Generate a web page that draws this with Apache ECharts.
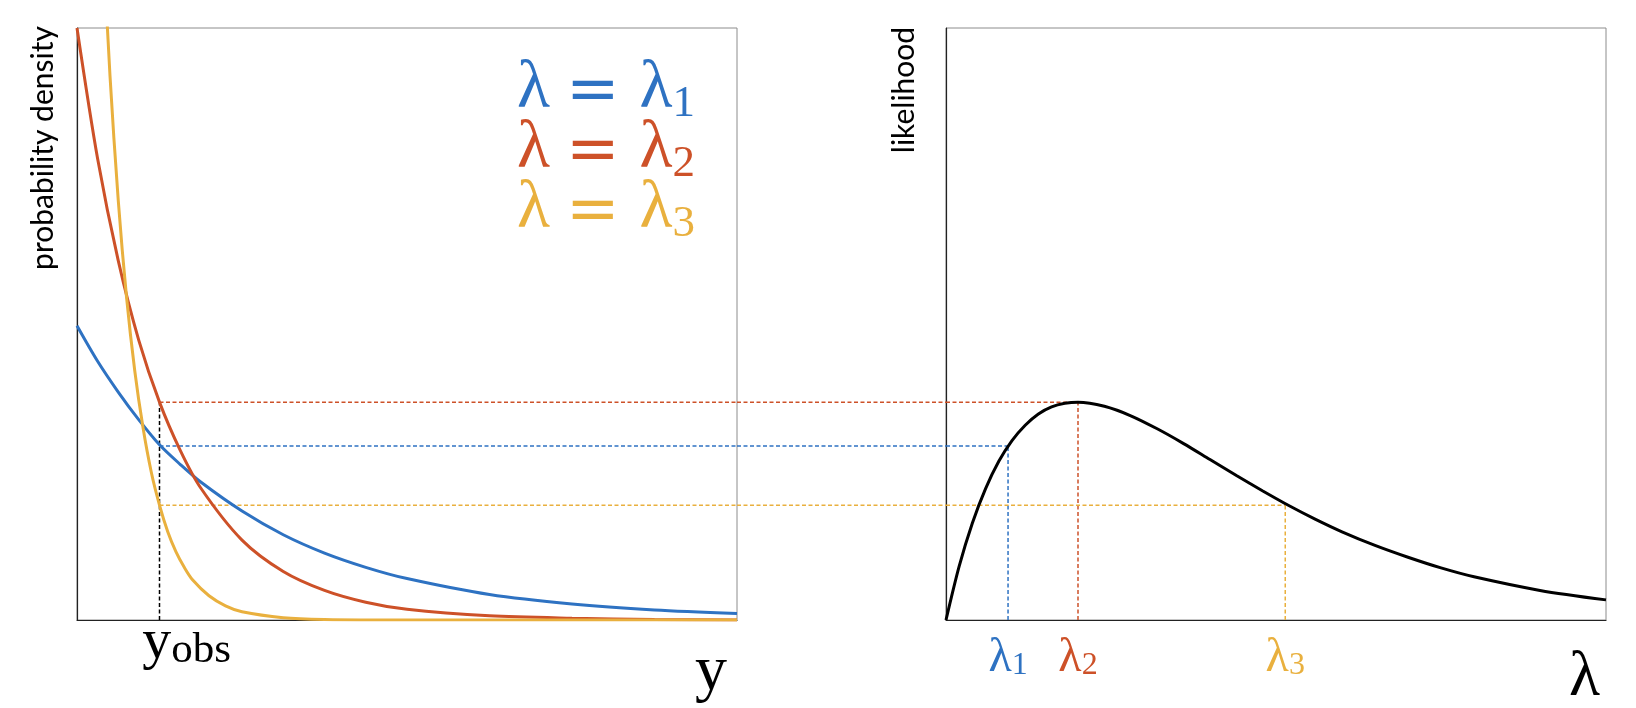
<!DOCTYPE html>
<html lang="en">
<head>
<meta charset="UTF-8">
<title>Likelihood</title>
<style>
    html, body { margin: 0; padding: 0; background: #fff; }
    #chart { width: 1636px; height: 708px; }
</style>
<script src="https://cdn.jsdelivr.net/npm/echarts@6/dist/echarts.min.js"></script>
</head>
<body>
<div id="chart"></div>
<script>
var yObs = 1;
var lambdaVals = [0.47, 1.0, 2.57];
var likeAtObs = [0.294, 0.368, 0.194];

// left panel: densities along y
var yPts = [0, 0.25, 0.5, 0.75, 1, 1.25, 1.5, 2, 2.5, 3, 3.5, 4, 5, 6, 7, 8];
var blueDensity = [0.497, 0.437, 0.385, 0.338, 0.296, 0.263, 0.233, 0.184, 0.144, 0.113, 0.089, 0.070, 0.043, 0.027, 0.017, 0.011];
var redDensity = [1.000, 0.779, 0.607, 0.472, 0.368, 0.287, 0.223, 0.135, 0.082, 0.050, 0.030, 0.018, 0.007, 0.003, 0.001, 0.000];
var yellowPts = [0, 0.2, 0.3, 0.4, 0.5, 0.6, 0.7, 0.8, 0.9, 1.0, 1.1, 1.2, 1.3, 1.4, 1.6, 1.8, 2.0, 2.5, 3, 4, 5, 6, 7, 8];
var yellowDensity = [2.600, 1.546, 1.192, 0.919, 0.709, 0.546, 0.421, 0.325, 0.250, 0.194, 0.149, 0.115, 0.089, 0.068, 0.041, 0.024, 0.014, 0.004, 0.001, 0.000, 0, 0, 0, 0];

// right panel: likelihood along lambda
var lambdaPts = [0, 0.1, 0.2, 0.3, 0.4, 0.5, 0.6, 0.7, 0.8, 0.9, 1.0, 1.2, 1.4, 1.6, 1.8, 2.0, 2.2, 2.4, 2.6, 2.8, 3.0, 3.25, 3.5, 3.75, 4.0, 4.5, 5.0];
var likelihood = [0, 0.091, 0.164, 0.222, 0.268, 0.303, 0.329, 0.348, 0.360, 0.366, 0.368, 0.361, 0.345, 0.323, 0.298, 0.271, 0.244, 0.218, 0.193, 0.170, 0.149, 0.126, 0.106, 0.088, 0.073, 0.050, 0.034];

var colors = ['#2e72c2', '#cd5128', '#e9b03e'];
var serif = 'Liberation Serif';

function zip(xs, ys) {
    return xs.map(function (x, i) { return [x, ys[i]]; });
}

function dashed(data, color, xi) {
    return {
        type: 'line', xAxisIndex: xi, yAxisIndex: xi, data: data,
        symbol: 'none', silent: true, z: 1,
        lineStyle: { color: color, width: 1.5, type: [4, 2.5] }
    };
}

function curve(name, data, color, xi) {
    return {
        name: name, type: 'line', xAxisIndex: xi, yAxisIndex: xi, data: data,
        symbol: 'none', smooth: 0.3, z: 3,
        lineStyle: { color: color, width: 3 },
        itemStyle: { color: color }
    };
}

var series = [];
for (var i = 0; i < 3; i++) {
    // left panel, from y_obs to the edge
    series.push(dashed([[yObs, likeAtObs[i]], [8, likeAtObs[i]]], colors[i], 0));
    // gap between the panels
    series.push(dashed([[0, likeAtObs[i]], [1, likeAtObs[i]]], colors[i], 2));
    // right panel, to the curve and down
    series.push(dashed([[0, likeAtObs[i]], [lambdaVals[i], likeAtObs[i]]], colors[i], 1));
    series.push(dashed([[lambdaVals[i], 0], [lambdaVals[i], likeAtObs[i]]], colors[i], 1));
}
series.push(dashed([[yObs, 0], [yObs, likeAtObs[1]]], '#000', 0));

series.push(curve('λ1', zip(yPts, blueDensity), colors[0], 0));
series.push(curve('λ2', zip(yPts, redDensity), colors[1], 0));
series.push(curve('λ3', zip(yellowPts, yellowDensity), colors[2], 0));
series.push(curve('likelihood', zip(lambdaPts, likelihood), '#000', 1));

var axisDark = { show: true, lineStyle: { color: '#222', width: 1.2 } };

var lambdaRich = {};
for (var k = 0; k < 3; k++) {
    lambdaRich['l' + k] = { fontFamily: serif, fontSize: 48, color: colors[k], verticalAlign: 'bottom' };
    lambdaRich['s' + k] = { fontFamily: serif, fontSize: 32, color: colors[k], verticalAlign: 'bottom' };
}

var option = {
    animation: false,
    grid: [
        { left: 77, top: 28, width: 660, height: 592, show: true, borderColor: '#8c8c8c', borderWidth: 1, outerBoundsMode: 'none', containLabel: false },
        { left: 946, top: 28, width: 660, height: 592, show: true, borderColor: '#8c8c8c', borderWidth: 1, outerBoundsMode: 'none', containLabel: false },
        { left: 737, top: 28, width: 209, height: 592, outerBoundsMode: 'none', containLabel: false }
    ],
    xAxis: [
        {
            type: 'value', gridIndex: 0, min: 0, max: 8,
            axisLine: axisDark, axisTick: { show: false }, splitLine: { show: false },
            axisLabel: {
                customValues: [yObs], margin: -6,
                formatter: function () { return '{sp|}{m|y}{s|obs}'; },
                rich: {
                    sp: { width: 54 },
                    m: { fontFamily: serif, fontSize: 58, color: '#000', verticalAlign: 'bottom' },
                    s: { fontFamily: serif, fontSize: 43, color: '#000', verticalAlign: 'bottom' }
                }
            },
            name: 'y', nameLocation: 'end', nameGap: -10,
            nameTextStyle: { fontFamily: serif, fontSize: 64, color: '#000', align: 'right', verticalAlign: 'top', padding: [20, 0, 0, 0] }
        },
        {
            type: 'value', gridIndex: 1, min: 0, max: 5,
            axisLine: axisDark, axisTick: { show: false }, splitLine: { show: false },
            axisLabel: {
                customValues: lambdaVals, margin: 14,
                formatter: function (v) {
                    var j = lambdaVals.indexOf(v);
                    return '{l' + j + '|λ}{s' + j + '|' + (j + 1) + '}';
                },
                rich: lambdaRich
            },
            name: 'λ', nameLocation: 'end', nameGap: -6,
            nameTextStyle: { fontFamily: serif, fontSize: 64, color: '#000', align: 'right', verticalAlign: 'top', padding: [26, 0, 0, 0] }
        },
        { type: 'value', gridIndex: 2, min: 0, max: 1, show: false }
    ],
    yAxis: [
        { type: 'value', gridIndex: 0, min: 0, max: 1, axisLine: axisDark, axisTick: { show: false }, axisLabel: { show: false }, splitLine: { show: false } },
        { type: 'value', gridIndex: 1, min: 0, max: 1, axisLine: axisDark, axisTick: { show: false }, axisLabel: { show: false }, splitLine: { show: false } },
        { type: 'value', gridIndex: 2, min: 0, max: 1, show: false }
    ],
    legend: {
        orient: 'vertical', left: 507, top: 50, itemGap: -12,
        icon: 'none', itemWidth: 0, selectedMode: false,
        data: [
            { name: 'λ1', textStyle: { color: colors[0] } },
            { name: 'λ2', textStyle: { color: colors[1] } },
            { name: 'λ3', textStyle: { color: colors[2] } }
        ],
        formatter: function (name) {
            return '{m|λ}{e|=}{m|λ}{s|' + name.slice(1) + '}';
        },
        textStyle: {
            rich: {
                m: { fontFamily: serif, fontSize: 68, lineHeight: 72, verticalAlign: 'top' },
                e: { fontFamily: 'DejaVu Sans', fontSize: 64, lineHeight: 72, verticalAlign: 'top', padding: [6, 20, 0, 16] },
                s: { fontFamily: serif, fontSize: 45, lineHeight: 72, verticalAlign: 'bottom' }
            }
        }
    },
    graphic: [
        { type: 'text', x: 43, y: 148, rotation: Math.PI / 2,
          style: { text: 'probability density', font: '30px Lato', fill: '#000', align: 'center', verticalAlign: 'middle' } },
        { type: 'text', x: 904, y: 90, rotation: Math.PI / 2,
          style: { text: 'likelihood', font: '30px Lato', fill: '#000', align: 'center', verticalAlign: 'middle' } }
    ],
    series: series
};

var chart = echarts.init(document.getElementById('chart'));
chart.setOption(option);
</script>
</body>
</html>
